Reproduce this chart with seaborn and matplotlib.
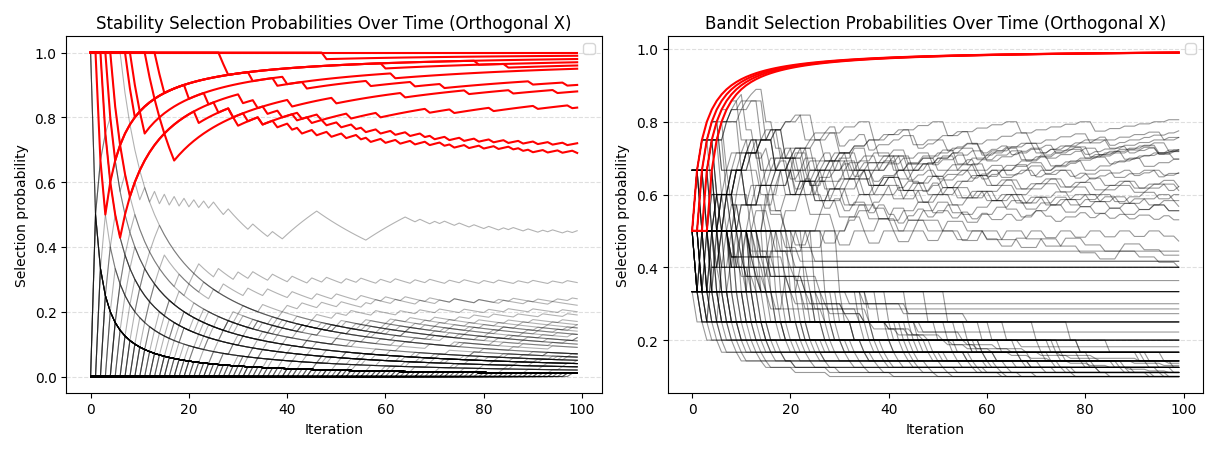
import numpy as np
import pandas as pd
import matplotlib
matplotlib.use("Agg")
import matplotlib.pyplot as plt
import seaborn as sns

N_ITER = 100

# --- Stability selection: iterations where each true feature was NOT selected
stab_true_misses = [
    [],
    [48],
    [27, 28],
    [14, 15, 79],
    [2, 3, 60, 85],
    [4, 5, 33, 38, 62],
    [8, 9, 20, 40, 44, 57, 66, 72, 90, 97],
    [3, 4, 5, 6, 22, 29, 41, 50, 64, 77, 86, 95],
    [12, 13, 14, 15, 16, 17, 30, 35, 43, 47, 53, 59, 69, 74, 82, 91, 98],
    [9, 10, 11, 24, 31, 34, 36, 39, 42, 45, 48, 51, 54, 56, 59, 62, 65, 68,
     70, 73, 76, 79, 82, 85, 88, 91, 94, 97],
    [5, 6, 7, 8, 26, 29, 32, 35, 38, 41, 43, 46, 49, 52, 55, 57, 60, 63, 66,
     69, 72, 74, 77, 80, 83, 86, 88, 90, 93, 96, 99],
]

# noise features selected several times: iterations where they were selected
stab_noise_hits = [
    [0, 1, 2, 4, 7, 9, 11, 13, 15, 17, 19, 21, 23, 25, 28, 33, 37, 40, 41, 42,
     43, 44, 45, 46, 57, 58, 59, 60, 61, 62, 63, 64, 67, 70, 72, 75, 78, 81,
     84, 86, 89, 92, 94, 97, 99],
    [12, 13, 15, 16, 18, 20, 21, 22, 26, 30, 33, 37, 41, 45, 48, 52, 55, 59,
     62, 66, 69, 73, 76, 80, 83, 87, 90, 94, 97],
    [14, 15, 17, 19, 24, 29, 31, 35, 40, 43, 47, 51, 56, 58, 62, 67, 71, 74,
     79, 83, 86, 91, 95, 98],
    [5, 6, 9, 11, 14, 18, 23, 27, 32, 36, 41, 46, 50, 55, 60, 64, 69, 74, 79,
     84, 89, 94],
    [20, 21, 22, 25, 28, 33, 37, 42, 46, 50, 53, 58, 63, 67, 71, 76, 81, 85,
     90, 96],
    [26, 27, 29, 31, 35, 39, 44, 49, 52, 57, 61, 65, 70, 75, 78, 82, 87, 92, 97],
    [8, 10, 16, 22, 29, 35, 42, 48, 55, 61, 68, 74, 80, 87, 93, 99],
    [3, 4, 7, 13, 21, 30, 38, 47, 56, 65, 73, 82, 91],
    [30, 31, 33, 36, 40, 45, 51, 57, 64, 70, 77, 83, 89, 95],
    [36, 37, 38, 41, 46, 53, 59, 66, 72, 79, 85, 92, 98],
    [17, 18, 24, 34, 44, 54, 64, 74, 84, 94],
    [45, 46, 48, 52, 58, 63, 69, 76, 82, 88, 93, 99],
    [1, 2, 3, 5, 9, 15, 25, 39, 60, 81],
    [11, 12, 19, 27, 38, 50, 62, 75, 88],
    [52, 53, 56, 61, 67, 73, 80, 86, 94],
    [40, 41, 47, 55, 66, 78, 90],
    [60, 61, 64, 70, 77, 85, 93],
    [19, 20, 23, 27, 32, 38, 43, 49, 54, 60, 66, 71, 77, 83, 88, 94],
    [24, 25, 26, 31, 36, 42, 47, 53, 59, 65, 72, 78, 84, 91, 97],
    [9, 12, 17, 23, 28, 34, 39, 45, 51, 56, 62, 68, 73, 79, 85, 90, 96],
    [31, 32, 35, 39, 44, 50, 56, 62, 69, 75, 81, 88, 95],
    [15, 16, 19, 24, 30, 37, 43, 50, 57, 63, 70, 77, 84, 92, 98],
    [0, 1, 2],
    [0, 1, 2, 3, 4],
    [1, 2, 3],
    [2, 3, 4, 5],
    [0, 1, 2, 3, 4, 5, 6],
    [3, 4, 5],
    [5, 6, 7, 8],
    [6, 7, 8, 9],
    [1, 2],
    [10, 11, 12, 13],
    [8, 9, 10, 11, 12, 13, 14],
    [16, 17, 18],
    [22, 23, 24, 30],
    [33, 34, 35, 48],
    [2, 14, 29, 45, 61, 78, 93],
    [4, 19, 33, 52, 70, 88],
    [7, 21, 40, 58, 76, 95],
    [9, 25, 44, 63, 81, 97],
    [11, 30, 49, 67, 86],
    [13, 27, 42, 56, 71, 84, 98],
    [15, 34, 53, 72, 91],
    [18, 31, 47, 64, 79, 96],
    [20, 36, 55, 73, 89],
    [23, 39, 51, 68, 83, 94],
    [25, 43, 59, 77, 92],
    [28, 46, 65, 82, 99],
    [32, 50, 69, 87],
    [35, 54, 74, 90],
    [38, 57, 75, 93],
    [41, 60, 80, 97],
    [44, 62, 85],
    [48, 66, 86],
    [51, 71, 92],
    [55, 76, 96],
    [58, 79],
    [63, 84],
    [67, 89],
    [72, 94],
    [1, 6, 12, 19, 26, 34, 43, 53, 64, 76, 89],
    [3, 8, 14, 21, 28, 37, 47, 58, 70, 83, 97],
    [0, 5, 10, 16, 23, 31, 40, 50, 61, 73, 86, 99],
]

# number of noise features picked exactly once, per iteration
stab_once_counts = [3, 2, 3, 2, 2, 3, 2, 3, 2, 2, 3, 2, 2, 3, 2, 2, 3, 2, 3, 2,
                    2, 3, 2, 2, 3, 2, 2, 3, 2, 3, 2, 2, 3, 2, 3, 2, 2, 3, 2, 2,
                    3, 2, 3, 2, 2, 3, 2, 2, 3, 2, 2, 3, 2, 3, 2, 2, 3, 2, 2, 3,
                    2, 2, 3, 2, 2, 3, 2, 3, 2, 2, 3, 2, 2, 3, 2, 2, 3, 2, 3, 2,
                    2, 3, 2, 2, 3, 2, 3, 2, 2, 3, 2, 3, 2, 2, 3, 2, 2, 3, 2, 0]

# --- Bandit: iteration of first pull for true arms (always rewarded after)
bandit_true_start = [1, 2, 3, 4]

# arms that only ever failed: iterations when pulled
bandit_fail_pulls = [
    [0, 2, 5, 9, 14, 21, 30, 41],
    [0, 3, 7, 12, 19, 28, 39, 53],
    [1, 3, 6, 11, 17, 25, 36, 50],
    [1, 4, 8, 14, 22, 33, 47, 64],
    [2, 5, 10, 16, 24, 35, 49, 67],
    [2, 6, 11, 18, 27, 38, 52, 70],
    [3, 7, 13, 20, 30, 43, 59, 78],
    [4, 9, 15, 23, 34, 48, 65, 85],
    [0, 4, 9, 16, 26, 40, 58],
    [1, 5, 10, 17, 27, 41, 60],
    [2, 7, 13, 21, 32, 46, 63],
    [3, 8, 15, 24, 36, 51, 72],
    [5, 11, 19, 29, 42, 58, 77],
    [6, 12, 20, 31, 45, 62, 83],
    [8, 14, 23, 35, 50, 68, 90],
    [0, 5, 12, 22, 37, 57],
    [1, 6, 14, 25, 40, 61],
    [2, 8, 16, 28, 44, 66],
    [4, 10, 19, 32, 49, 71],
    [7, 13, 24, 38, 56, 80],
    [9, 18, 29, 43, 62, 87],
    [0, 6, 16, 31, 54],
    [1, 8, 19, 35, 60],
    [3, 11, 23, 41, 69],
    [5, 14, 27, 46, 75],
    [10, 21, 37, 59, 92],
    [0, 8, 22, 48],
    [2, 11, 28, 57],
    [4, 16, 36, 66],
    [12, 26, 45, 79],
    [1, 10, 33],
    [3, 17, 44],
    [6, 24, 61],
    [0, 13],
    [2, 20],
    [1],
    [0, 9, 18, 27, 36, 45, 54, 63],
    [1, 7, 15, 26, 39, 55, 74, 96],
    [3, 12, 22, 33, 46, 60, 76, 94],
    [4, 13, 24, 37, 52, 69, 88],
    [5, 15, 27, 41, 57, 75, 95],
    [6, 17, 30, 45, 62, 81],
    [7, 19, 33, 49, 67, 86],
    [9, 22, 37, 54, 73, 93],
    [11, 25, 41, 59, 79, 98],
    [0, 3, 6, 10, 15, 21, 28],
    [1, 2, 4, 7, 11, 16],
    [2, 4, 8, 13, 19],
    [3, 6, 10, 15],
    [0, 1, 3, 6, 10, 15, 21, 28],
    [12, 20, 29, 39, 51, 64, 78, 93],
    [14, 23, 33, 44, 56, 69, 83, 97],
    [16, 25, 35, 47, 60, 74, 89],
    [18, 28, 40, 53, 67, 82, 98],
    [20, 31, 43, 57, 72, 88],
    [13, 27, 42, 58, 76, 95],
    [15, 30, 46, 63, 81],
    [17, 34, 52, 71, 91],
    [21, 38, 56, 75, 96],
    [19, 36, 54, 73, 93],
    [23, 40, 59, 79],
    [25, 44, 64, 85],
    [11, 29, 50, 74],
    [27, 48, 70],
    [30, 52, 77],
    [8, 35],
]

# other arms: one char per iteration ('.' not pulled, '1' reward, '0' no reward)
bandit_mixed = [
    "..1.1.1.11 10.0.10.1. 0.1.0.1..1 .1.0.1.0.1 ..1.0.1.1. 0.1..1.0.1 .1.0..1.1. 0.1.1..0.1 .0.1.1..1. 0.1.1.0..1",
    ".1..1.1.1. 1.11.0.0.0 .0.1.0.0.1 .0.1..0.1. 0.0.1.1.0. 1..0.1.0.1 .0..1.0.1. 1.0.0.1..1 .0.1.0.1.0 .1..0.1.0.",
    "1...1..1.. 1.1..0.1.1 .1.0.1..1. 0.1.1.0.1. .1.1..0.1. 1.0.1.1..0 .1.1.0.1.1 ..1.0.1.1. 0.1.1..1.0 .1.1.0.1.1",
    "0....1...1 ..0..1.1.. 1..0..1.1. .1..0..1.. 1.1..0.1.. 1..1.1..0. 1.1..1..1. .0.1.1..1. 1..1.0.1.1 ..1.1..1.1",
    "1..0..1..1 .0..1..0.1 ..1..0..1. .1..0..1.. 1..0..1..1 ..0..1..1. .0..1..0.. 1..1..0..1 ..0..1..1. .0..1..0.1",
    "0..1..1..0 ..1..0..0. .1..0..1.. 0..1..0..1 ..0..1..0. .1..0..1.. 0..0..1..1 ..0..1..0. .1..0..1.. 0..1..0..0",
    "1.0.1.0.0. 1.0.0..... .......... .......... .......... .......... .......... .......... .......... ..........",
    "0.1.0.0.1. .0..0..... ..1....... .......... .......... .......... .......... .......... .......... ..........",
    ".11.1.1.1. 0.0.0.0..0 .0..1..0.. 1.1.1..1.1 ..1.1..0.1 .1..1.1..0 .1.1..1..1 ..0.1..1.1 ..1..0.1.. 1.1..1..0.",
    "0..0..1... 1..0..1..1 ..1..1..0. .1..1..0.. 1..0..1..1 .0..1..0.. 1..1..0..1 ..1..0..1. .0..1..1.. 0..1..1..0",
    ".0..1.1..1 ..1.1..0.. 1..1.0..1. .1..0.1..1 ..0.1..1.. 0..1..1.0. .1..0..1.1 ..0..1..0. 1..1..0..1 ..1..0.1..",
    ".1.0.1..0. 0..0..1... 0......... .......... .......... .......... .......... .......... .......... ..........",
    "1.1..0.0.. 1..0...0.. .0........ .......... .......... .......... .......... .......... .......... ..........",
    "0......... ..1..1..1. .1..0..1.. 1..1..0..1 ..0..1..1. .1..0..1.. 0..1..1..0 .1..1..1.. 0..1..1..1 ..0..1..1.",
    "..0.1..1.1 .1..1..0.. 1.0..1..1. .0..1..0.. 1..0..0..1 ..1..0..1. .0..1..0.. 1..0..1..0 ..1..0..1. .0..1..0..",
    ".1..1.0.1. .0..1..1.. 0..1..1..1 ..0..1..1. .1..0..1.. 1..1..0..1 ..1..1..0. .1..1..1.. 0..1..1..1 ..1..0..1.",
    "0..1..0.1. 1..1..1..0 ..1..0..1. .0..1..0.. 0..1..1..0 ..1..0..1. .1..0..0.. 1..1..0..1 ..0..1..0. .1..1..0..",
    "1.0..0.1.. 0..0.0.... .0........ .......... .......... .......... .......... .......... .......... ..........",
    "..1.0..1.0 ..0..0.... 0......... .......... .......... .......... .......... .......... .......... ..........",
    ".1.1.0..1. .0..1.0..0 ..0..0.... .......... .......... .......... .......... .......... .......... ..........",
    "1.0...0... .0.....0.. .......0.. .......... .......... .......... .......... .......... .......... ..........",
    ".1..0....0 ....0..... ...0...... ....0..... .......0.. .......... .......... .......... .......... ..........",
    "..1..0...0 ......0... .....0.... ......0... ......0... .....0.... .......0.. .......... .......... ..........",
    "1..0....0. .....0.... .......... .......... .......... .......... .......... .......... .......... ..........",
    ".1...0.... ..0....... ....0..... ......0... .......... .......... .......... .......... .......... ..........",
    "1.1..0...0 ....0....0 ......0... .....0.... ....0..... ......0... .......... .......... .......... ..........",
    "0.1..1...0 ..0....0.. ...0...... ..0....... ...0...... .......... .......... .......... .......... ..........",
    "1...0.1.0. ..0...0... ..0...0... .0...0.... 0...0...0. ..0...0... .0...0...0 ...0...0.. .0...0...0 ...0...0..",
    "..1.1..0.1 .1..0..1.. 0..1..0..1 ..0...0... .0..1...0. ..1...0... 0...1...0. ..0...1... 0...0...1. ..0...0...",
    ".1..1..1.. 0.1..0..1. .0..0..1.. 0...1...0. ..0...1... .0...0...1 ...0...0.. .1...0...0 ...0...1.. .0...0...0",
    "1.1.1.0.1. .1..0.1..1 .0..1..1.0 ..1..1..0. 1..1..1..0 .1..1..1.. 0..1..1..1 ..0..1..1. 1..0..1..1 ..1..0..1.",
    "0.1..1.1.1 ..1.0..1.. 1..0..1..1 ..0..1.... 1..0..1..0 ..1..1..0. .1..1..1.. 1..0..1..1 ..1..1..0. .1..1..1..",
    ".0.1..1.1. .1.1..1..0 ..1..1.1.. 0..1..1..1 ..1..0..1. .1..1..0.. 1..1..1..0 ..1..1..1. .0..1..1.. 1..1..0..1",
    "1..1.1.0.. 1.1..1..0. .1..0..1.. 1..0..0..1 ..0..1..0. .1..0..1.. 0..1..0..1 ..0..1..1. .0..1..0.. 1..0..1..0",
    "..0..1.1.1 .1..1.1..0 .1..1..0.. 1..1..1.0. .1..0..1.. 1..1..1..0 .1..1..1.. 0..1..1..1 ..1..0..1. .1..1..1..",
    "0.0.1.1..1 ..1..1..1. .0..1..0.. 1..1..0..1 ..1..0..1. .0..1..1.. 0..1..0..1 ..1..0..1. .1..0..1.. 0..1..1..0",
    ".1.1..1.1. .1..0..0.. 1..0..1..0 ..1..0..1. .0..1..0.. 1..0..1..1 ..0..1..0. .1..1..0.. 1..0..1..0 ..1..1..0.",
    "1..0.1..1. .1..1..1.1 ..1..0..1. .1..1..0.. 1..1..1..1 ..0..1..1. .1..1..0.. 1..1..1..1 ..0..1..1. .1..1..1..",
    "..1..0..0. .1..0..1.. 0..1..1..0 ..1..0..1. .1..0..1.. 1..0..0..1 ..1..1..0. .1..1..0.. 1..1..0..1 ..1..0..1.",
    "0...1..1.. 1..0..1... 1..1..0... .1..1..1.. .0..1..1.. .1..0..1.. .1..1..0.. .1..1..1.. .0..1..1.. .1..1..0..",
    "1.0.0.1.0. 0..0...... .......... .......... .......... .......... .......... .......... .......... ..........",
    "0.1.1.0.0. .0..0..... .......... .......... .......... .......... .......... .......... .......... ..........",
    "1.1.0.0.1. 0..0..0... .0........ .......... .......... .......... .......... .......... .......... ..........",
    "1.1.1.0.0. 0..1..0..0 ..0....... .......... .......... .......... .......... .......... .......... ..........",
    "0.0.1.1.0. .1..0..... .......... .......... .......... .......... .......... .......... .......... ..........",
    "1.0..0...1 ..0...0... 0...0...0. ..0....0.. ..0....0.. ...0....0. .....0.... .0.....0.. ...0...... 0.....0...",
    "..1..0..0. ..0...0..1 ...0...0.. .0...0.... 0....0.... .0....0... ..0.....0. .....0.... ..0....... .0.....0..",
]


def stab_curve(hits):
    sel = np.zeros(N_ITER)
    sel[hits] = 1
    return np.cumsum(sel) / np.arange(1, N_ITER + 1)


def bandit_curve(outcomes):
    outcomes = outcomes.replace(" ", "").ljust(N_ITER, ".")[:N_ITER]
    a, b = 1, 1
    vals = []
    for ch in outcomes:
        if ch == "1":
            a += 1
        elif ch == "0":
            b += 1
        vals.append(a / (a + b))
    return np.array(vals)


def to_frame(curves):
    iters = np.arange(N_ITER)
    return pd.DataFrame({
        "iteration": np.tile(iters, len(curves)),
        "prob": np.concatenate(curves),
        "unit": np.repeat(np.arange(len(curves)), N_ITER),
    })


# build curves
stab_red = [stab_curve([i for i in range(N_ITER) if i not in m]) for m in stab_true_misses]
stab_black = [stab_curve(h) for h in stab_noise_hits]
for it, cnt in enumerate(stab_once_counts):
    for _ in range(cnt):
        stab_black.append(stab_curve([it]))

band_red = [bandit_curve("." * s + "1" * (N_ITER - s)) for s in bandit_true_start]
band_black = []
for pulls in bandit_fail_pulls:
    s = "".join("0" if i in pulls else "." for i in range(N_ITER))
    band_black.append(bandit_curve(s))
for s in bandit_mixed:
    band_black.append(bandit_curve(s))

fig, axes = plt.subplots(1, 2, figsize=(12.18, 4.52), dpi=100)

panels = [
    (axes[0], stab_black, stab_red, "Stability Selection Probabilities Over Time (Orthogonal X)", 0.3),
    (axes[1], band_black, band_red, "Bandit Selection Probabilities Over Time (Orthogonal X)", 0.4),
]
for ax, black, red, title, alpha in panels:
    sns.lineplot(data=to_frame(black), x="iteration", y="prob", units="unit",
                 estimator=None, color="black", alpha=alpha, linewidth=0.8, ax=ax)
    sns.lineplot(data=to_frame(red), x="iteration", y="prob", units="unit",
                 estimator=None, color="red", linewidth=1.5, ax=ax)
    ax.set_title(title)
    ax.set_xlabel("Iteration")
    ax.set_ylabel("Selection probability")
    ax.grid(axis="y", linestyle="--", alpha=0.4)
    ax.legend(loc="upper right")

plt.tight_layout()
plt.savefig("out.png", dpi=100)
